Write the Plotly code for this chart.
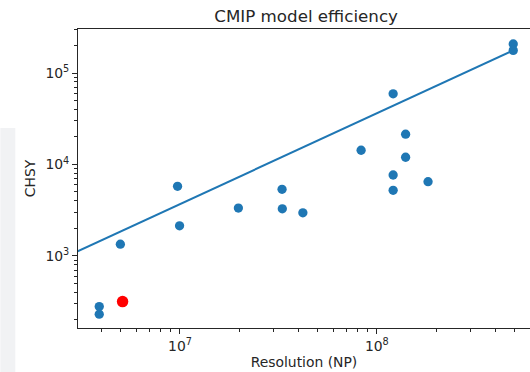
import plotly.graph_objects as go

# ---- data ----
resolution = [3.89e6, 3.89e6, 4.98e6, 9.72e6, 9.95e6, 1.98e7, 3.30e7, 3.31e7, 4.21e7,
              8.32e7, 1.21e8, 1.21e8, 1.21e8, 1.40e8, 1.40e8, 1.82e8, 4.93e8, 4.93e8]
chsy = [230, 279, 1343, 5768, 2133, 3337, 5346, 3275, 2961,
        14310, 59300, 7670, 5214, 21430, 11990, 6476, 2.08e5, 1.77e5]

highlight_res = [5.11e6]
highlight_chsy = [316]

fit_res = [2.9e6, 4.93e8]
fit_chsy = [1077, 1.77e5]

x_major = [1e7, 1e8]
x_major_text = ["10<sup>7</sup>", "10<sup>8</sup>"]
y_major = [1e3, 1e4, 1e5]
y_major_text = ["10<sup>3</sup>", "10<sup>4</sup>", "10<sup>5</sup>"]

x_minor = [k * 10 ** e for e in (6, 7, 8) for k in range(2, 10)]
y_minor = [k * 10 ** e for e in (2, 3, 4, 5) for k in range(2, 10)]

BLUE = "#1f77b4"
FONT = "DejaVu Sans"

fig = go.Figure()

fig.add_trace(go.Scatter(
    x=fit_res, y=fit_chsy, mode="lines",
    line=dict(color=BLUE, width=2.1), showlegend=False, hoverinfo="skip"))

fig.add_trace(go.Scatter(
    x=resolution, y=chsy, mode="markers",
    marker=dict(color=BLUE, size=9.3, line=dict(width=0)),
    showlegend=False))

fig.add_trace(go.Scatter(
    x=highlight_res, y=highlight_chsy, mode="markers",
    marker=dict(color="#ff0000", size=11.5, line=dict(width=0)),
    showlegend=False))

axis_common = dict(
    type="log", showgrid=False, zeroline=False,
    showline=True, linecolor="#262626", linewidth=1.1,
    ticks="outside", ticklen=4.9, tickwidth=1.1, tickcolor="#262626",
    tickfont=dict(family=FONT, size=13.9, color="#262626"),
)

fig.update_xaxes(
    **axis_common,
    range=[6.482, 8.778],
    mirror=True,
    tickvals=x_major, ticktext=x_major_text,
    minor=dict(tickvals=x_minor, ticks="outside", ticklen=2.8,
               tickwidth=0.8, tickcolor="#262626"),
    title=dict(text="Resolution (NP)", font=dict(family=FONT, size=13.9, color="#262626"),
               standoff=4),
)

fig.update_yaxes(
    **axis_common,
    range=[2.211, 5.482],
    tickvals=y_major, ticktext=y_major_text,
    minor=dict(tickvals=y_minor, ticks="outside", ticklen=2.8,
               tickwidth=0.8, tickcolor="#262626"),
    title=dict(text="CHSY", font=dict(family=FONT, size=13.9, color="#262626"),
               standoff=6),
)

# faint gray strip on the far left of the reference image
fig.add_shape(type="rect", xref="paper", yref="paper",
              x0=-0.1718, x1=-0.1387, y0=-0.1485, y1=0.669,
              fillcolor="#f1f2f4", line=dict(width=0), layer="below")

fig.update_layout(
    width=530, height=372,
    margin=dict(l=78, r=0, t=29, b=44),
    paper_bgcolor="white", plot_bgcolor="white",
    title=dict(text="CMIP model efficiency", x=0.5047, xref="paper",
               y=1 - 16 / 372, yref="container", yanchor="middle", xanchor="center",
               font=dict(family=FONT, size=16.7, color="#262626")),
    font=dict(family=FONT),
)

fig.write_html("out.html")
